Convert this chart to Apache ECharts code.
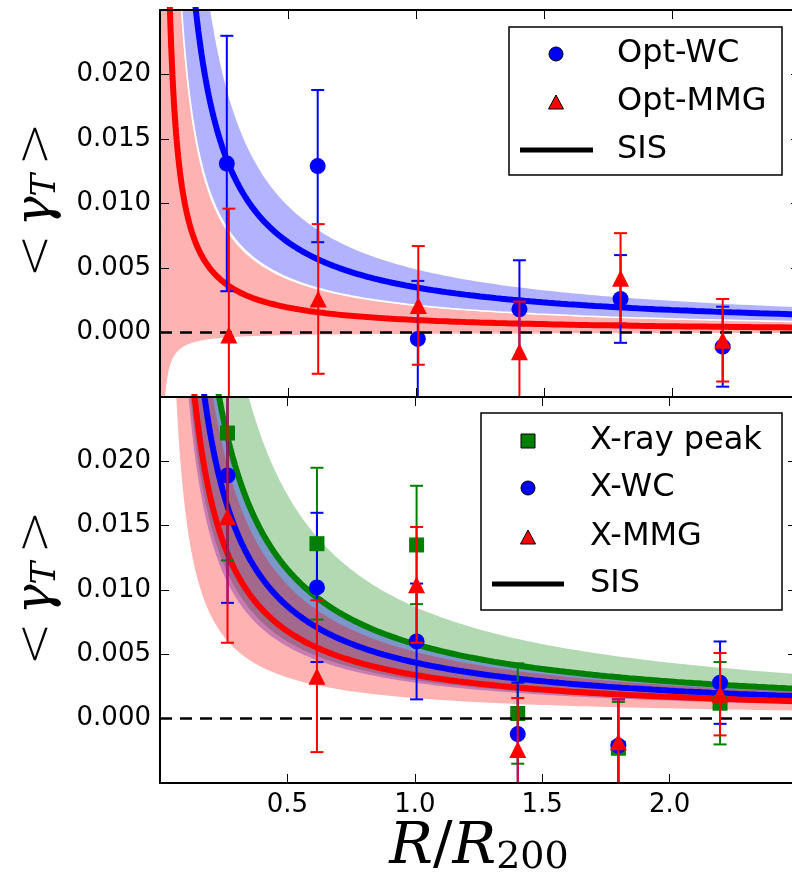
<!DOCTYPE html>
<html>
<head>
<meta charset="utf-8">
<script src="https://cdn.jsdelivr.net/npm/echarts@6/dist/echarts.min.js"></script>
<style>
html, body { margin: 0; padding: 0; background: #fff; overflow: hidden; }
#frame { width: 792px; height: 889px; overflow: hidden; position: relative; }
#chart { width: 800px; height: 889px; position: absolute; left: 0; top: 0; }
</style>
</head>
<body>
<div id="frame"><div id="chart"></div></div>
<script>
// Stacked tangential shear profiles in radial bins of R/R200.
// Optical centres (upper panel)
const optWcR = [0.261, 0.616, 1.007, 1.404, 1.799, 2.198];
const optWcShear = [0.0131, 0.0129, -0.0005, 0.0018, 0.0026, -0.0011];
const optWcErr = [0.0099, 0.0059, 0.0045, 0.0038, 0.0034, 0.0031];

const optMmgR = [0.269, 0.618, 1.009, 1.404, 1.799, 2.198];
const optMmgShear = [-0.0002, 0.0026, 0.0021, -0.0015, 0.0042, -0.0006];
const optMmgErr = [0.0098, 0.0058, 0.0046, 0.0039, 0.0035, 0.0032];

// X-ray centres (lower panel)
const xrayR = [0.265, 0.616, 1.007, 1.404, 1.799, 2.198];
const xPeakShear = [0.0222, 0.0136, 0.0135, 0.0004, -0.0023, 0.0012];
const xPeakErr = [0.0099, 0.0059, 0.0046, 0.0039, 0.0036, 0.0032];
const xWcShear = [0.0189, 0.0102, 0.0060, -0.0012, -0.0021, 0.0028];
const xWcErr = [0.0099, 0.0058, 0.0045, 0.0040, 0.0036, 0.0032];
const xMmgShear = [0.0157, 0.0033, 0.0104, -0.0024, -0.0018, 0.0019];
const xMmgErr = [0.0098, 0.0059, 0.0045, 0.0040, 0.0033, 0.0032];

// SIS fits, amplitude [lower, best, upper] of gamma_T = amplitude / (R/R200)
const sisOptWc = [0.00212, 0.0035, 0.0049];
const sisOptMmg = [-0.0001, 0.00097, 0.00205];
const sisXPeak = [0.0030, 0.0058, 0.0087];
const sisXWc = [0.0028, 0.00437, 0.0059];
const sisXMmg = [0.0016, 0.0034, 0.0052];

const yTickLabels = ['0.000', '0.005', '0.010', '0.015', '0.020'];
const xTickLabels = ['0.5', '1.0', '1.5', '2.0'];

const BLUE = '#0000ff', RED = '#ff0000', GREEN = '#008000';

// radii at which the SIS model is evaluated (log spaced, dense near the centre)
const rGrid = [];
for (let i = 0; i <= 400; i++) rGrid.push(0.004 * Math.pow(2.5 / 0.004, i / 400));
function sisCurve(amp) { return rGrid.map(r => [r, amp / r]); }

function bandSeries(amps, color, gi, z) {
  return {
    type: 'custom', xAxisIndex: gi * 2, yAxisIndex: gi * 2, clip: true, z: z, silent: true,
    data: [[0, 0]],
    renderItem: function (params, api) {
      const up = rGrid.map(r => api.coord([r, amps[2] / r]));
      const lo = rGrid.map(r => api.coord([r, amps[0] / r])).reverse();
      return { type: 'polygon', shape: { points: up.concat(lo) }, style: { fill: color } };
    }
  };
}

function sisLine(amp, color, width, gi, z) {
  return {
    type: 'line', xAxisIndex: gi * 2, yAxisIndex: gi * 2, data: sisCurve(amp),
    symbol: 'none', showSymbol: false, clip: true, silent: true, z: z,
    lineStyle: { color: color, width: width }
  };
}

function errorSeries(xs, ys, es, color, gi, z) {
  return {
    type: 'custom', xAxisIndex: gi * 2, yAxisIndex: gi * 2, clip: true, z: z, silent: true,
    dimensions: ['x', 'y', 'e'], encode: { x: 0, y: 1 },
    data: xs.map((x, i) => [x, ys[i], es[i]]),
    renderItem: function (params, api) {
      const x = api.value(0), y = api.value(1), e = api.value(2);
      const top = api.coord([x, y + e]), bot = api.coord([x, y - e]);
      const hw = 6.5;
      const st = { stroke: color, lineWidth: 2 };
      return {
        type: 'group', children: [
          { type: 'line', shape: { x1: top[0], y1: top[1], x2: bot[0], y2: bot[1] }, style: st },
          { type: 'line', shape: { x1: top[0] - hw, y1: top[1], x2: top[0] + hw, y2: top[1] }, style: st },
          { type: 'line', shape: { x1: bot[0] - hw, y1: bot[1], x2: bot[0] + hw, y2: bot[1] }, style: st }
        ]
      };
    }
  };
}

function markerSeries(xs, ys, symbol, size, color, gi, z) {
  return {
    type: 'scatter', xAxisIndex: gi * 2, yAxisIndex: gi * 2, clip: true, silent: true, z: z,
    symbol: symbol, symbolSize: size, itemStyle: { color: color, opacity: 1 },
    data: xs.map((x, i) => [x, ys[i]])
  };
}

function zeroLine(gi, z) {
  return {
    type: 'line', xAxisIndex: gi * 2, yAxisIndex: gi * 2, data: [], z: z, silent: true,
    markLine: {
      silent: true, symbol: 'none', animation: false, label: { show: false },
      lineStyle: { color: '#000', width: 2.5, type: [12, 8] },
      data: [{ yAxis: 0 }]
    }
  };
}

function xAxisDef(gi, pos, labels) {
  return {
    type: 'value', gridIndex: gi, position: pos, min: 0, max: 2.5, interval: 0.5, z: 10,
    axisLine: { show: true, onZero: false, lineStyle: { color: '#000', width: 2 } },
    axisTick: { show: true, inside: true, length: 9, lineStyle: { color: '#000', width: 1 } },
    splitLine: { show: false },
    axisLabel: {
      show: labels, margin: 9, color: '#000', fontSize: 26, fontFamily: 'DejaVu Sans',
      formatter: function (v) { const s = v.toFixed(1); return xTickLabels.includes(s) ? s : ''; }
    }
  };
}

function yAxisDef(gi, pos, labels) {
  return {
    type: 'value', gridIndex: gi, position: pos, min: -0.005, max: 0.025, interval: 0.005, z: 10,
    axisLine: { show: true, onZero: false, lineStyle: { color: '#000', width: 2 } },
    axisTick: { show: true, inside: true, length: 9, lineStyle: { color: '#000', width: 1 } },
    splitLine: { show: false },
    axisLabel: {
      show: labels, margin: 9, color: '#000', fontSize: 26, fontFamily: 'DejaVu Sans',
      formatter: function (v) { const s = v.toFixed(3); return yTickLabels.includes(s) ? s : ''; }
    }
  };
}

const yTitleRich = {
  b: { fontFamily: 'DejaVu Sans', fontWeight: 200, fontSize: 52, color: '#000', padding: [0, 8, 0, 8] },
  g: { fontFamily: 'DejaVu Serif', fontStyle: 'italic', fontSize: 50, color: '#000' },
  t: { fontFamily: 'DejaVu Serif', fontStyle: 'italic', fontSize: 34, color: '#000', verticalAlign: 'bottom', lineHeight: 30, padding: [22, 0, 0, 0] }
};
const yTitleText = '{b|<}{g|γ}{t|T}{b|>}';

function legendGraphics(box, rows, textX) {
  const els = [{
    type: 'rect', shape: box, z: 100,
    style: { fill: '#fff', stroke: '#000', lineWidth: 1.5 }
  }];
  rows.forEach(function (row) {
    const cx = row.cx, cy = row.cy;
    if (row.kind === 'circle') {
      els.push({ type: 'circle', z: 101, shape: { cx: cx, cy: cy, r: 7 }, style: { fill: row.color, stroke: '#000', lineWidth: 1 } });
    } else if (row.kind === 'triangle') {
      els.push({ type: 'polygon', z: 101, shape: { points: [[cx, cy - 7], [cx - 7.5, cy + 7], [cx + 7.5, cy + 7]] }, style: { fill: row.color, stroke: '#000', lineWidth: 1 } });
    } else if (row.kind === 'square') {
      els.push({ type: 'rect', z: 101, shape: { x: cx - 7, y: cy - 7, width: 14, height: 14 }, style: { fill: row.color, stroke: '#000', lineWidth: 1 } });
    } else {
      els.push({ type: 'line', z: 101, shape: { x1: row.x1, y1: cy, x2: row.x2, y2: cy }, style: { stroke: '#000', lineWidth: 5 } });
    }
    els.push({
      type: 'text', z: 101, x: textX, y: cy,
      style: { text: row.label, fill: '#000', fontSize: 32, fontFamily: 'DejaVu Sans', textAlign: 'left', textVerticalAlign: 'middle' }
    });
  });
  return els;
}

const chart = echarts.init(document.getElementById('chart'), null, { renderer: 'canvas' });

const option = {
  animation: false,
  backgroundColor: '#fff',
  grid: [
    { left: 160, width: 640, top: 10, height: 387 },
    { left: 160, width: 640, top: 397, height: 386 }
  ],
  xAxis: [xAxisDef(0, 'bottom', false), xAxisDef(0, 'top', false), xAxisDef(1, 'bottom', true), xAxisDef(1, 'top', false)],
  yAxis: [yAxisDef(0, 'left', true), yAxisDef(0, 'right', false), yAxisDef(1, 'left', true), yAxisDef(1, 'right', false)],
  series: [
    // upper panel: optical centres
    bandSeries(sisOptWc, 'rgba(0,0,255,0.3)', 0, 1),
    bandSeries(sisOptMmg, 'rgba(255,0,0,0.3)', 0, 1),
    sisLine(sisOptWc[0], '#ffffff', 1.5, 0, 2),
    sisLine(sisOptWc[1], BLUE, 6, 0, 3),
    sisLine(sisOptMmg[1], RED, 6, 0, 3),
    errorSeries(optWcR, optWcShear, optWcErr, BLUE, 0, 4),
    markerSeries(optWcR, optWcShear, 'circle', 16, BLUE, 0, 4),
    errorSeries(optMmgR, optMmgShear, optMmgErr, RED, 0, 5),
    markerSeries(optMmgR, optMmgShear, 'triangle', 17, RED, 0, 5),
    zeroLine(0, 6),

    // lower panel: X-ray centres
    bandSeries(sisXPeak, 'rgba(0,128,0,0.3)', 1, 1),
    bandSeries(sisXWc, 'rgba(0,0,255,0.3)', 1, 1),
    bandSeries(sisXMmg, 'rgba(255,0,0,0.3)', 1, 1),
    sisLine(sisXPeak[1], GREEN, 6, 1, 3),
    sisLine(sisXWc[1], BLUE, 6, 1, 3),
    sisLine(sisXMmg[1], RED, 6, 1, 3),
    errorSeries(xrayR, xPeakShear, xPeakErr, GREEN, 1, 4),
    markerSeries(xrayR, xPeakShear, 'rect', 15, GREEN, 1, 4),
    errorSeries(xrayR, xWcShear, xWcErr, BLUE, 1, 4),
    markerSeries(xrayR, xWcShear, 'circle', 16, BLUE, 1, 4),
    errorSeries(xrayR, xMmgShear, xMmgErr, RED, 1, 5),
    markerSeries(xrayR, xMmgShear, 'triangle', 17, RED, 1, 5),
    zeroLine(1, 6)
  ],
  graphic: [
    {
      type: 'text', x: 37, y: 200, rotation: Math.PI / 2, z: 50,
      style: { text: yTitleText, rich: yTitleRich, textAlign: 'center', textVerticalAlign: 'middle' }
    },
    {
      type: 'text', x: 37, y: 588, rotation: Math.PI / 2, z: 50,
      style: { text: yTitleText, rich: yTitleRich, textAlign: 'center', textVerticalAlign: 'middle' }
    },
    {
      type: 'text', x: 479, y: 848, z: 50,
      style: {
        text: '{r|R}{s|/}{r|R}{n|200}', textAlign: 'center', textVerticalAlign: 'middle',
        rich: {
          r: { fontFamily: 'DejaVu Serif', fontStyle: 'italic', fontSize: 58, color: '#000' },
          s: { fontFamily: 'DejaVu Serif', fontSize: 58, color: '#000' },
          n: { fontFamily: 'DejaVu Serif', fontSize: 38, color: '#000', verticalAlign: 'bottom', lineHeight: 34, padding: [30, 0, 0, 0] }
        }
      }
    }
  ].concat(
    legendGraphics({ x: 509, y: 27, width: 273, height: 148 }, [
      { kind: 'circle', cx: 556, cy: 54, color: BLUE, label: 'Opt-WC' },
      { kind: 'triangle', cx: 556, cy: 102, color: RED, label: 'Opt-MMG' },
      { kind: 'line', x1: 520, x2: 593, cy: 150, label: 'SIS' }
    ], 617),
    legendGraphics({ x: 481, y: 413, width: 301, height: 197 }, [
      { kind: 'square', cx: 528, cy: 441, color: GREEN, label: 'X-ray peak' },
      { kind: 'circle', cx: 528, cy: 488, color: BLUE, label: 'X-WC' },
      { kind: 'triangle', cx: 528, cy: 537, color: RED, label: 'X-MMG' },
      { kind: 'line', x1: 492, x2: 564, cy: 584, label: 'SIS' }
    ], 590)
  )
};

chart.setOption(option);
</script>
</body>
</html>
